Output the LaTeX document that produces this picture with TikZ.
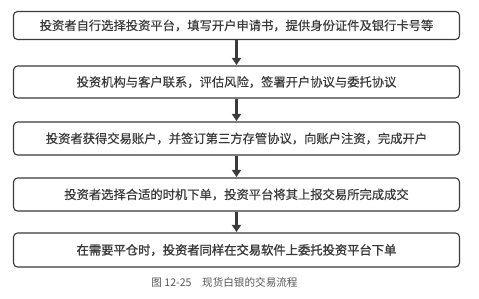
\documentclass[tikz,border=0pt]{standalone}
\usepackage{fontspec}
\newfontfamily\cjk[FakeBold=0.35]{Noto Sans CJK SC}
\newfontfamily\cjkm[FakeBold=1.3]{Noto Sans CJK SC}
\newfontfamily\cjkc{Noto Sans CJK SC}
\usetikzlibrary{arrows.meta}
\definecolor{ink}{HTML}{3A3A3A}
\tikzset{
  stepbox/.style={draw=ink, line width=1.1pt, rounded corners=4pt, minimum width=446pt, inner sep=0pt, text=ink, font=\cjk\fontsize{12.3}{14}\selectfont},
  flow/.style={draw=ink, line width=2.6pt, -{Triangle[length=7pt,width=9pt]}, shorten >=0.5pt}
}
\begin{document}
\begin{tikzpicture}[x=1pt,y=-1pt]
\useasboundingbox[fill=white] (0,0) rectangle (479,298);
\node[stepbox, minimum height=28pt] (b1) at (236.5,25.5) {投资者自行选择投资平台，填写开户申请书，提供身份证件及银行卡号等};
\node[stepbox, minimum height=32pt] (b2) at (236.5,82) {投资机构与客户联系，评估风险，签署开户协议与委托协议};
\node[stepbox, minimum height=33pt] (b3) at (236.5,138.5) {投资者获得交易账户，并签订第三方存管协议，向账户注资，完成开户};
\node[stepbox, minimum height=33pt] (b4) at (236.5,194.5) {投资者选择合适的时机下单，投资平台将其上报交易所完成成交};
\node[stepbox, minimum height=34pt, font=\cjkm\fontsize{12.3}{14}\selectfont] (b5) at (236.5,250) {在需要平仓时，投资者同样在交易软件上委托投资平台下单};
\draw[flow] (b1.south) -- (b2.north);
\draw[flow] (b2.south) -- (b3.north);
\draw[flow] (b3.south) -- (b4.north);
\draw[flow] (b4.south) -- (b5.north);
\node[text=ink!85, font=\cjkc\fontsize{10.6}{12}\selectfont, inner sep=0pt] (cap) at (224.5,282) {图 12-25\quad 现货白银的交易流程};
\end{tikzpicture}
\end{document}
